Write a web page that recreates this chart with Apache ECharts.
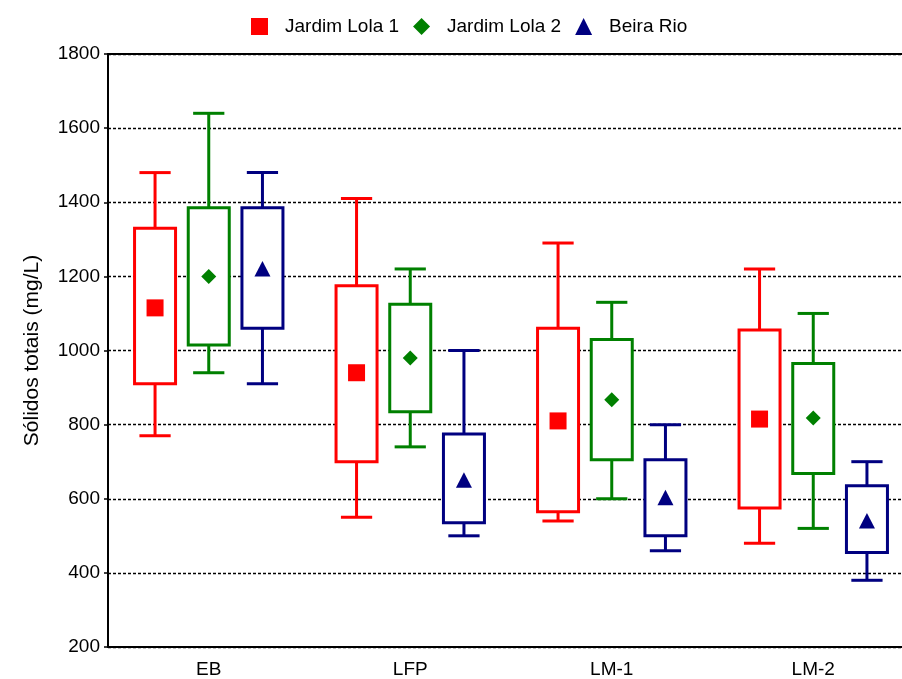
<!DOCTYPE html>
<html>
<head>
<meta charset="utf-8">
<script src="https://cdn.jsdelivr.net/npm/echarts@6/dist/echarts.min.js"></script>
<style>
  html, body { margin: 0; padding: 0; background: #fff; }
  #chart { width: 902px; height: 679px; }
</style>
</head>
<body>
<div id="chart"></div>
<script>
// Sampling sites along the x axis
const categories = ['EB', 'LFP', 'LM-1', 'LM-2'];
const seriesNames = ['Jardim Lola 1', 'Jardim Lola 2', 'Beira Rio'];

// Per site: [whisker low, box low, box high, whisker high, mean]  (mg/L)
const lola1 = [[770, 910, 1330, 1480, 1115], [550, 700, 1175, 1410, 940], [540, 565, 1060, 1290, 810], [480, 575, 1055, 1220, 815]];
const lola2 = [[940, 1015, 1385, 1640, 1200], [740, 835, 1125, 1220, 980], [600, 705, 1030, 1130, 867], [520, 668, 965, 1100, 818]];
const beira = [[910, 1060, 1385, 1480, 1220], [500, 535, 775, 1000, 650], [460, 500, 705, 800, 603], [380, 455, 635, 700, 540]];

// Value axis ticks
const yMin = 200, yMax = 1800, yStep = 200;

const FONT = 'Liberation Sans, Arial, sans-serif';
const colors = ['#ff0000', '#008000', '#000080'];
const offsets = [-0.2665, 0, 0.2665];   // box centre offset, as a fraction of the category band
const markers = ['square', 'diamond', 'triangle'];
const groups = [lola1, lola2, beira];

function makeRenderer(offsetFrac, marker, color) {
  return function (params, api) {
    const cat = api.value(0);
    const band = api.size([1, 0])[0];
    const cx = api.coord([cat, 0])[0] + band * offsetFrac;
    const py = k => api.coord([cat, api.value(k)])[1];
    const yLow = py(1), yQ1 = py(2), yQ3 = py(3), yHigh = py(4), yMean = py(5);
    const boxW = band * 0.2035;
    const capW = band * 0.155;
    const lineStyle = { stroke: color, lineWidth: 3, fill: null };
    const seg = (x1, y1, x2, y2) => ({ type: 'line', shape: { x1, y1, x2, y2 }, style: lineStyle });

    const children = [
      seg(cx, yHigh, cx, yQ3),
      seg(cx, yQ1, cx, yLow),
      seg(cx - capW / 2, yHigh, cx + capW / 2, yHigh),
      seg(cx - capW / 2, yLow, cx + capW / 2, yLow),
      { type: 'rect', shape: { x: cx - boxW / 2, y: yQ3, width: boxW, height: yQ1 - yQ3 },
        style: { fill: '#fff', stroke: color, lineWidth: 3 } }
    ];

    if (marker === 'square') {
      children.push({ type: 'rect', shape: { x: cx - 8.5, y: yMean - 8.5, width: 17, height: 17 }, style: { fill: color } });
    } else if (marker === 'diamond') {
      children.push({ type: 'polygon', shape: { points: [[cx, yMean - 7.5], [cx + 7.5, yMean], [cx, yMean + 7.5], [cx - 7.5, yMean]] }, style: { fill: color } });
    } else {
      children.push({ type: 'polygon', shape: { points: [[cx, yMean - 8], [cx + 8, yMean + 7.5], [cx - 8, yMean + 7.5]] }, style: { fill: color } });
    }
    return { type: 'group', children };
  };
}

const series = seriesNames.map((name, s) => ({
  name,
  type: 'custom',
  xAxisIndex: 0,
  yAxisIndex: 0,
  itemStyle: { color: colors[s] },
  encode: { x: 0, y: [1, 2, 3, 4, 5] },
  data: groups[s].map((d, i) => [i].concat(d)),
  renderItem: makeRenderer(offsets[s], markers[s], colors[s]),
  clip: false
}));

const chart = echarts.init(document.getElementById('chart'), null, { renderer: 'canvas' });
chart.setOption({
  animation: false,
  backgroundColor: '#fff',
  textStyle: { fontFamily: FONT },
  legend: {
    left: 246,
    top: 12,
    itemWidth: 17,
    itemHeight: 17,
    itemGap: 14,
    itemStyle: { borderWidth: 0 },
    textStyle: { fontFamily: FONT, fontSize: 19, color: '#000', padding: [0, 0, 0, 12] },
    data: [
      { name: seriesNames[0], icon: 'rect' },
      { name: seriesNames[1], icon: 'diamond' },
      { name: seriesNames[2], icon: 'triangle' }
    ]
  },
  // the plot frame runs a little past the right edge of the canvas
  grid: { left: 108, top: 54, width: 806, height: 593, containLabel: false, outerBoundsMode: 'none' },
  xAxis: [
    {
      type: 'category',
      data: categories,
      position: 'bottom',
      boundaryGap: true,
      axisLine: { lineStyle: { color: '#000', width: 2 } },
      axisTick: { inside: true, length: 4, alignWithLabel: true, lineStyle: { color: '#000', width: 1.5 } },
      axisLabel: { color: '#000', fontSize: 19, fontFamily: FONT, margin: 13 },
      splitLine: { show: false }
    },
    {
      type: 'category',
      data: categories,
      position: 'top',
      boundaryGap: true,
      axisLine: { lineStyle: { color: '#000', width: 2 } },
      axisTick: { inside: true, length: 4, alignWithLabel: true, lineStyle: { color: '#000', width: 1.5 } },
      axisLabel: { show: false },
      splitLine: { show: false }
    }
  ],
  yAxis: {
    type: 'value',
    min: yMin,
    max: yMax,
    interval: yStep,
    name: 'Sólidos totais (mg/L)',
    nameLocation: 'middle',
    nameGap: 65,
    nameTextStyle: { color: '#000', fontSize: 21, fontFamily: FONT },
    axisLine: { show: true, lineStyle: { color: '#000', width: 2 } },
    axisTick: { show: true, inside: false, length: 4, lineStyle: { color: '#000', width: 1.5 } },
    axisLabel: { color: '#000', fontSize: 19, fontFamily: FONT, margin: 8, formatter: v => String(v) },
    splitLine: { show: true, lineStyle: { color: '#000', width: 1.3, type: [3, 2] } }
  },
  series
});
</script>
</body>
</html>
